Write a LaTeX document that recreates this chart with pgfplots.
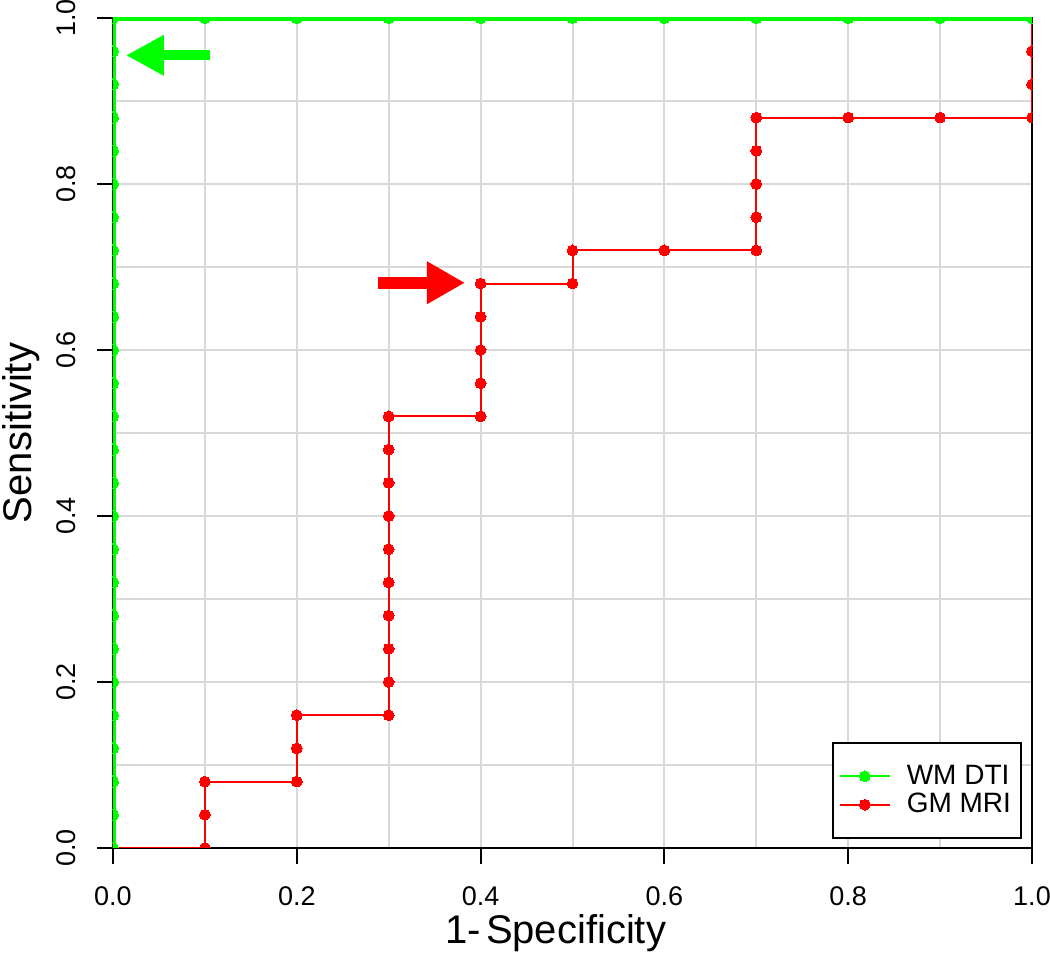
\documentclass[border=0pt]{standalone}
\usepackage{fontspec}
\setmainfont{Liberation Sans}
\usepackage{pgfplots}
\pgfplotsset{compat=1.18}
\usetikzlibrary{arrows.meta}
\definecolor{rgreen}{RGB}{0,255,0}
\definecolor{rred}{RGB}{255,0,0}
\definecolor{gridg}{RGB}{217,217,217}

\begin{document}
\begin{tikzpicture}
\path[use as bounding box] (-56.5pt,-52.5pt) rectangle (468.5pt,424pt);
\begin{axis}[
 at={(0,0)}, anchor=south west,
 scale only axis, width=459.5pt, height=415pt,
 xmin=0, xmax=1, ymin=0, ymax=1,
 clip marker paths=true,
 xtick={0,0.2,...,1}, ytick={0,0.2,...,1},
 minor xtick={0.1,0.3,0.5,0.7,0.9}, minor ytick={0.1,0.3,0.5,0.7,0.9},
 grid=both, major grid style={gridg,line width=1pt}, minor grid style={gridg,line width=1pt},
 minor tick length=0pt, major tick length=8pt, tick align=outside, tick pos=left,
 axis line style={black,line width=1pt}, tick style={black,line width=1pt},
 /pgf/number format/.cd, fixed, fixed zerofill, precision=1, assume math mode=true, /pgfplots/.cd,
 tick label style={font=\fontsize{13.5}{15}\selectfont},
 yticklabel style={rotate=90},
 xticklabel style={inner sep=0.5pt},
 xticklabel shift=10.5pt, yticklabel shift=7pt,
 xlabel={1-\kern0.12em Specificity}, ylabel={Sensitivity},
 label style={font=\fontsize{20}{24}\selectfont},
 xlabel style={at={(axis description cs:0.482,-0.1145)}, anchor=base, inner sep=0pt},
 ylabel style={at={(axis description cs:-0.1,0.5)}, anchor=center},
 legend style={at={(axis description cs:1,0)}, anchor=south east, xshift=-5pt, yshift=4.5pt,
   draw=black, line width=1pt, font=\fontsize{14}{16}\selectfont, cells={anchor=west},
   inner xsep=3pt, inner ysep=9pt, row sep=-1pt, column sep=6pt},
 legend image code/.code={\draw[mark repeat=2,mark phase=2,#1] plot coordinates {(0pt,0pt)(12.5pt,0pt)(25pt,0pt)};},
]
% GM MRI
\addplot[rred, line width=1pt, mark=*, mark size=2.7pt, mark options={line width=0pt}, forget plot] coordinates {
(0,0)(0.1,0)(0.1,0.04)(0.1,0.08)(0.2,0.08)(0.2,0.12)(0.2,0.16)(0.3,0.16)(0.3,0.20)(0.3,0.24)(0.3,0.28)
(0.3,0.32)(0.3,0.36)(0.3,0.40)(0.3,0.44)(0.3,0.48)(0.3,0.52)(0.4,0.52)(0.4,0.56)(0.4,0.60)(0.4,0.64)
(0.4,0.68)(0.5,0.68)(0.5,0.72)(0.6,0.72)(0.7,0.72)(0.7,0.76)(0.7,0.80)(0.7,0.84)(0.7,0.88)(0.8,0.88)
(0.9,0.88)(1,0.88)(1,0.92)(1,0.96)(1,1)};
% WM DTI
\addplot[rgreen, line width=3.5pt, mark=*, mark size=2.8pt, mark options={line width=0pt}, forget plot] coordinates {
(0,0)(0,0.04)(0,0.08)(0,0.12)(0,0.16)(0,0.20)(0,0.24)(0,0.28)(0,0.32)(0,0.36)(0,0.40)(0,0.44)(0,0.48)
(0,0.52)(0,0.56)(0,0.60)(0,0.64)(0,0.68)(0,0.72)(0,0.76)(0,0.80)(0,0.84)(0,0.88)(0,0.92)(0,0.96)(0,1)
(0.1,1)(0.2,1)(0.3,1)(0.4,1)(0.5,1)(0.6,1)(0.7,1)(0.8,1)(0.9,1)(1,1)};
\addlegendimage{rgreen, line width=1pt, mark=*, mark size=2.7pt, mark options={line width=0pt}}
\addlegendentry{WM DTI}
\addlegendimage{rred, line width=1pt, mark=*, mark size=2.7pt, mark options={line width=0pt}}
\addlegendentry{GM MRI}
% arrows
\draw[rgreen, line width=5pt, -{Triangle[length=19pt,width=19pt]}] (axis cs:0.106,0.955) -- (axis cs:0.014,0.955);
\draw[rred, line width=6pt, -{Triangle[length=19pt,width=20pt]}] (axis cs:0.288,0.681) -- (axis cs:0.383,0.681);
\end{axis}
\end{tikzpicture}
\end{document}
